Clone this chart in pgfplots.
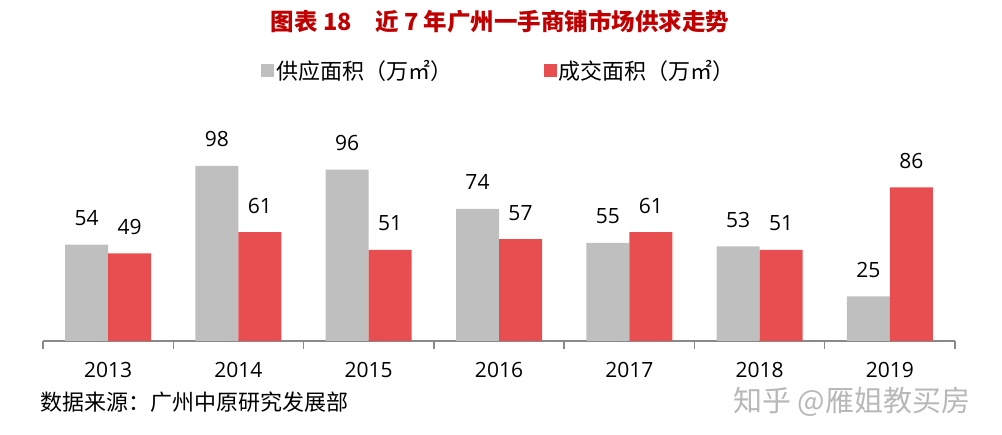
\documentclass[border=0pt]{standalone}
\usepackage{pgfplots}
\pgfplotsset{compat=1.18}
\usepackage{fontspec}
\setmainfont{Open Sans}
\newfontfamily\cjk{Noto Sans CJK SC}
\definecolor{supply}{RGB}{191,191,191}
\definecolor{deal}{RGB}{232,78,80}
\definecolor{titlered}{RGB}{192,0,0}
\definecolor{axisgray}{RGB}{137,137,137}

\begin{document}
\begin{tikzpicture}
\useasboundingbox (0,0) rectangle (1002pt,435pt);
\begin{axis}[
    at={(43pt,94pt)}, anchor=south west,
    scale only axis,
    width=912pt, height=178.6pt,
    xmin=-0.5, xmax=6.5, ymin=0, ymax=100,
    ybar=0pt, bar width=43pt,
    axis y line=none, axis x line*=bottom,
    x axis line style={draw=axisgray, line width=1.4pt},
    xtick={0,...,6},
    xticklabels={2013,2014,2015,2016,2017,2018,2019},
    major tick length=0pt,
    extra x ticks={-0.5,0.5,1.5,2.5,3.5,4.5,5.5,6.5},
    extra x tick labels={},
    extra x tick style={major tick length=8pt, tick align=outside,
        major tick style={draw=axisgray, line width=1.4pt}},
    xticklabel style={font=\fontsize{21}{21}\selectfont, anchor=base, yshift=-37pt},
    /pgf/number format/assume math mode=true,
    nodes near coords,
    every node near coord/.append style={font=\fontsize{21}{21}\selectfont,
        anchor=base, yshift=19pt, black},
    clip=false,
    legend style={at={(0.5,1.512)}, anchor=center, draw=none,
        font=\fontsize{22}{22}\selectfont\cjk, legend columns=2,
        /tikz/every even column/.append style={column sep=90pt},
        /tikz/every odd column/.append style={column sep=0pt},
        nodes={inner xsep=2pt}},
    legend image code/.code={\fill[#1] (0pt,-6.5pt) rectangle (13pt,6.5pt);},
]
\addplot[fill=supply, draw=none] coordinates {
    (0,54) (1,98) (2,96) (3,74) (4,55) (5,53) (6,25)
};
\addlegendentry{供应面积（万㎡）}
\addplot[fill=deal, draw=none] coordinates {
    (0,49) (1,61) (2,51) (3,57) (4,61) (5,51) (6,86)
};
\addlegendentry{成交面积（万㎡）}
\end{axis}
\node[font=\fontsize{23.5}{23.5}\selectfont\cjk\bfseries, text=titlered] at (500pt,413pt)
    {图表\ 18\quad 近 7 年广州一手商铺市场供求走势};
\node[font=\fontsize{22}{22}\selectfont\cjk, anchor=west, inner sep=0pt] at (40pt,33pt)
    {数据来源：广州中原研究发展部};
\node[font=\fontsize{29}{29}\selectfont\cjk, anchor=west, inner sep=0pt, text=black!28] at (733pt,33pt)
    {知乎 @雁姐教买房};
\end{tikzpicture}
\end{document}
